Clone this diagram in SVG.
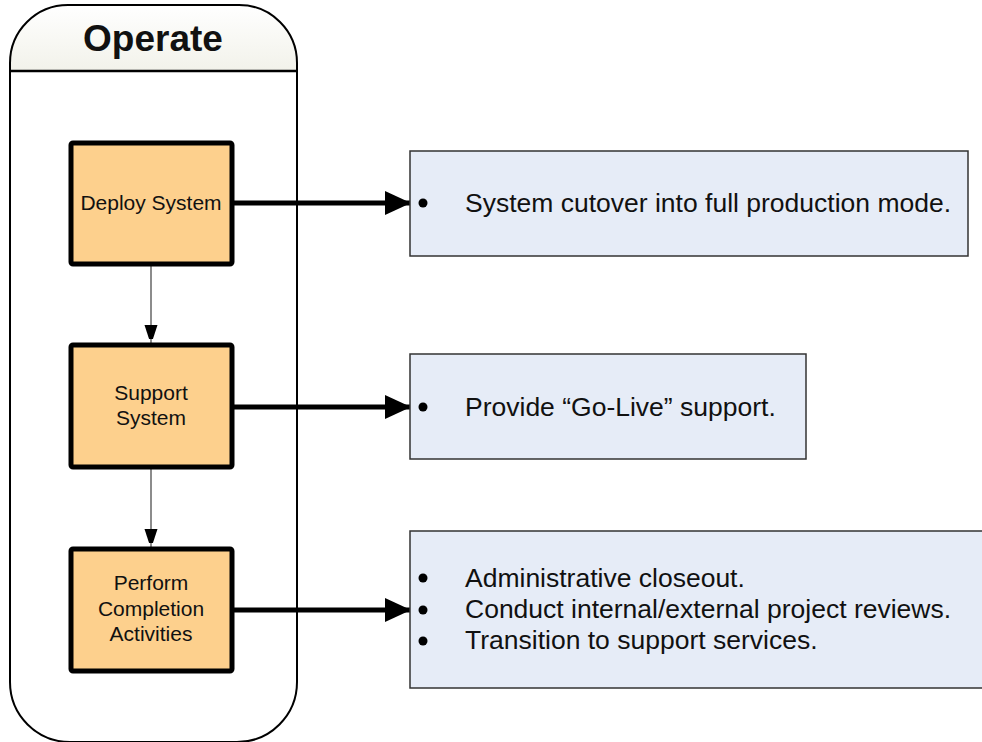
<svg xmlns="http://www.w3.org/2000/svg" width="982" height="742" viewBox="0 0 982 742">
<style>
.node rect{fill:#fdd08d;stroke:#000;stroke-width:5}
.ntext{font-family:"Liberation Sans",Arial,sans-serif;font-size:21px;fill:#111;text-anchor:middle}
.info rect{fill:#e6ecf7;stroke:#333;stroke-width:1.5}
.itext{font-family:"Liberation Sans",Arial,sans-serif;font-size:26.5px;fill:#111}
.thick{stroke:#000;stroke-width:5;fill:none}
.thin{stroke:#666;stroke-width:1.5;fill:none}
</style>
<defs>
<linearGradient id="hg" x1="0" y1="0" x2="0" y2="1">
<stop offset="0" stop-color="#ffffff"/>
<stop offset="1" stop-color="#f2f2ea"/>
</linearGradient>
<marker id="big" markerUnits="userSpaceOnUse" markerWidth="26" markerHeight="26" refX="26" refY="12" orient="auto">
<path d="M0,0 L26,12 L0,24 Z" fill="#000"/>
</marker>
<marker id="small" markerUnits="userSpaceOnUse" markerWidth="14" markerHeight="20" refX="20" refY="6.5" orient="auto">
<path d="M0,0 L20,6.5 L0,13 Z" fill="#000"/>
</marker>
</defs>
<g id="lane">
<path d="M10,742 L10,63 A58,58 0 0 1 68,5 L239,5 A58,58 0 0 1 297,63 L297,742" fill="#fff" stroke="none"/>
<path d="M10,71 L10,63 A58,58 0 0 1 68,5 L239,5 A58,58 0 0 1 297,63 L297,71 Z" fill="url(#hg)" stroke="none"/>
<path d="M10,71 L10,682 A60,60 0 0 0 70,742 L237,742 A60,60 0 0 0 297,682 L297,63 A58,58 0 0 0 239,5 L68,5 A58,58 0 0 0 10,63 Z" fill="none" stroke="#000" stroke-width="2"/>
<line x1="10" y1="71" x2="297" y2="71" stroke="#000" stroke-width="2.5"/>
<text x="153" y="51" font-family="Liberation Sans,Arial,sans-serif" font-size="37" font-weight="bold" text-anchor="middle" fill="#111">Operate</text>
</g>
<g id="connectors">
<line class="thin" x1="151" y1="264" x2="151" y2="345" marker-end="url(#small)"/>
<line class="thin" x1="151" y1="467" x2="151" y2="549" marker-end="url(#small)"/>
<line class="thick" x1="232" y1="203" x2="411" y2="203" marker-end="url(#big)"/>
<line class="thick" x1="232" y1="407" x2="411" y2="407" marker-end="url(#big)"/>
<line class="thick" x1="232" y1="610" x2="411" y2="610" marker-end="url(#big)"/>
</g>
<g id="deploy" class="node">
<rect x="71" y="143" width="161" height="121" rx="2"/>
<text class="ntext" x="151" y="210">Deploy System</text>
</g>
<g id="support" class="node">
<rect x="71" y="345" width="161" height="122" rx="2"/>
<text class="ntext" x="151" y="400">Support</text>
<text class="ntext" x="151" y="425">System</text>
</g>
<g id="perform" class="node">
<rect x="71" y="549" width="161" height="122" rx="2"/>
<text class="ntext" x="151" y="590">Perform</text>
<text class="ntext" x="151" y="616">Completion</text>
<text class="ntext" x="151" y="641">Activities</text>
</g>
<g id="info1" class="info">
<rect x="410" y="151" width="558" height="105"/>
<circle cx="423" cy="203" r="4.5" fill="#000"/>
<text class="itext" x="465" y="212">System cutover into full production mode.</text>
</g>
<g id="info2" class="info">
<rect x="410" y="354" width="396" height="105"/>
<circle cx="423" cy="407" r="4.5" fill="#000"/>
<text class="itext" x="465" y="416">Provide “Go-Live” support.</text>
</g>
<g id="info3" class="info">
<rect x="410" y="531" width="580" height="157"/>
<circle cx="423" cy="578" r="4.5" fill="#000"/>
<circle cx="423" cy="610" r="4.5" fill="#000"/>
<circle cx="423" cy="641" r="4.5" fill="#000"/>
<text class="itext" x="465" y="587">Administrative closeout.</text>
<text class="itext" x="465" y="618">Conduct internal/external project reviews.</text>
<text class="itext" x="465" y="649">Transition to support services.</text>
</g>
</svg>
